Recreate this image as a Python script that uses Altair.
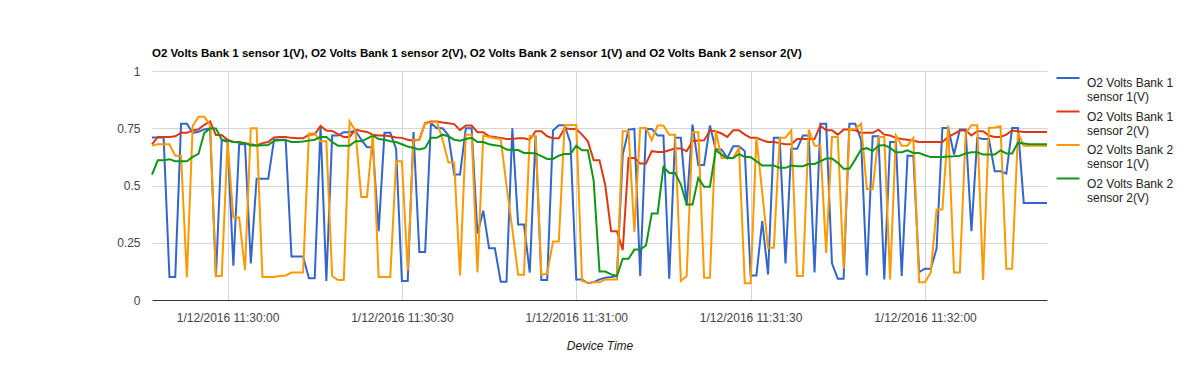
import altair as alt
import pandas as pd

series_names = [
    "O2 Volts Bank 1 sensor 1(V)",
    "O2 Volts Bank 1 sensor 2(V)",
    "O2 Volts Bank 2 sensor 1(V)",
    "O2 Volts Bank 2 sensor 2(V)",
]
series_colors = ["#3366cc", "#dc3912", "#ff9900", "#109618"]

first_time = "2016-01-12 11:29:47"
tick_times = ["2016-01-12T11:30:00", "2016-01-12T11:30:30", "2016-01-12T11:31:00",
              "2016-01-12T11:31:30", "2016-01-12T11:32:00"]
y_ticks = [0, 0.25, 0.5, 0.75, 1]

b1s1 = [
    0.71, 0.71, 0.71, 0.10, 0.10, 0.77, 0.77, 0.73, 0.735, 0.745,
    0.75, 0.10, 0.70, 0.69, 0.15, 0.68, 0.68, 0.16, 0.53, 0.53,
    0.53, 0.70, 0.70, 0.70, 0.19, 0.19, 0.19, 0.095, 0.095, 0.76,
    0.083, 0.718, 0.718, 0.733, 0.733, 0.74, 0.70, 0.667, 0.667, 0.30,
    0.73, 0.73, 0.66, 0.083, 0.083, 0.733, 0.21, 0.21, 0.773, 0.75,
    0.75, 0.72, 0.548, 0.548, 0.75, 0.75, 0.29, 0.39, 0.226, 0.226,
    0.08, 0.08, 0.75, 0.33, 0.33, 0.12, 0.718, 0.087, 0.087, 0.74,
    0.763, 0.763, 0.686, 0.09, 0.09, 0.073, 0.078, 0.09, 0.097, 0.10,
    0.105, 0.635, 0.744, 0.747, 0.105, 0.747, 0.747, 0.718, 0.718, 0.093,
    0.708, 0.708, 0.413, 0.766, 0.59, 0.59, 0.762, 0.657, 0.657, 0.62,
    0.671, 0.671, 0.65, 0.107, 0.107, 0.345, 0.112, 0.708, 0.708, 0.16,
    0.66, 0.66, 0.718, 0.718, 0.12, 0.77, 0.77, 0.16, 0.093, 0.093,
    0.77, 0.77, 0.70, 0.107, 0.715, 0.715, 0.09, 0.69, 0.69, 0.105,
    0.63, 0.63, 0.122, 0.137, 0.137, 0.224, 0.751, 0.751, 0.635, 0.744,
    0.744, 0.30, 0.708, 0.703, 0.703, 0.562, 0.562, 0.552, 0.751, 0.751,
    0.424, 0.424, 0.424, 0.424, 0.424,
]

b1s2 = [
    0.68, 0.712, 0.712, 0.712, 0.715, 0.73, 0.73, 0.74, 0.745, 0.765,
    0.78, 0.72, 0.72, 0.70, 0.69, 0.69, 0.685, 0.68, 0.675, 0.685,
    0.69, 0.71, 0.712, 0.712, 0.708, 0.706, 0.706, 0.722, 0.724, 0.76,
    0.74, 0.738, 0.724, 0.712, 0.712, 0.744, 0.738, 0.734, 0.722, 0.718,
    0.718, 0.715, 0.71, 0.708, 0.70, 0.696, 0.70, 0.773, 0.78, 0.78,
    0.775, 0.772, 0.768, 0.742, 0.762, 0.762, 0.733, 0.733, 0.715, 0.712,
    0.708, 0.703, 0.703, 0.706, 0.706, 0.70, 0.737, 0.737, 0.715, 0.706,
    0.706, 0.75, 0.747, 0.747, 0.722, 0.693, 0.61, 0.61, 0.50, 0.30,
    0.30, 0.218, 0.62, 0.62, 0.596, 0.596, 0.65, 0.646, 0.646, 0.654,
    0.662, 0.662, 0.65, 0.693, 0.696, 0.697, 0.74, 0.737, 0.727, 0.712,
    0.741, 0.741, 0.722, 0.708, 0.708, 0.698, 0.69, 0.69, 0.685, 0.68,
    0.68, 0.703, 0.703, 0.703, 0.703, 0.762, 0.741, 0.741, 0.722, 0.744,
    0.744, 0.741, 0.73, 0.73, 0.73, 0.744, 0.722, 0.718, 0.708, 0.703,
    0.70, 0.695, 0.69, 0.69, 0.69, 0.69, 0.69, 0.712, 0.725, 0.74,
    0.74, 0.718, 0.737, 0.737, 0.718, 0.712, 0.712, 0.722, 0.74, 0.737,
    0.734, 0.734, 0.734, 0.734, 0.734,
]

b2s1 = [
    0.675, 0.68, 0.68, 0.68, 0.63, 0.63, 0.10, 0.76, 0.80, 0.80,
    0.765, 0.105, 0.105, 0.69, 0.36, 0.36, 0.13, 0.75, 0.75, 0.10,
    0.10, 0.10, 0.105, 0.107, 0.12, 0.12, 0.12, 0.727, 0.727, 0.693,
    0.693, 0.105, 0.087, 0.087, 0.78, 0.74, 0.45, 0.45, 0.727, 0.10,
    0.10, 0.10, 0.606, 0.606, 0.13, 0.70, 0.70, 0.77, 0.775, 0.78,
    0.70, 0.60, 0.60, 0.107, 0.722, 0.722, 0.12, 0.718, 0.712, 0.706,
    0.703, 0.50, 0.31, 0.11, 0.11, 0.716, 0.716, 0.11, 0.115, 0.255,
    0.255, 0.764, 0.764, 0.764, 0.083, 0.075, 0.078, 0.078, 0.09, 0.09,
    0.09, 0.737, 0.737, 0.297, 0.751, 0.751, 0.698, 0.762, 0.762, 0.722,
    0.722, 0.083, 0.105, 0.733, 0.733, 0.097, 0.097, 0.74, 0.62, 0.62,
    0.62, 0.664, 0.073, 0.073, 0.708, 0.47, 0.228, 0.228, 0.708, 0.708,
    0.741, 0.105, 0.105, 0.744, 0.674, 0.674, 0.206, 0.712, 0.712, 0.137,
    0.747, 0.747, 0.77, 0.485, 0.485, 0.712, 0.712, 0.09, 0.718, 0.674,
    0.674, 0.708, 0.078, 0.078, 0.12, 0.395, 0.395, 0.762, 0.12, 0.12,
    0.727, 0.763, 0.763, 0.087, 0.751, 0.753, 0.759, 0.137, 0.137, 0.73,
    0.674, 0.674, 0.674, 0.674, 0.674,
]

b2s2 = [
    0.548, 0.61, 0.61, 0.615, 0.606, 0.606, 0.606, 0.625, 0.638, 0.73,
    0.749, 0.749, 0.70, 0.695, 0.69, 0.688, 0.685, 0.675, 0.675, 0.676,
    0.677, 0.695, 0.698, 0.698, 0.69, 0.69, 0.692, 0.696, 0.70, 0.712,
    0.712, 0.69, 0.674, 0.674, 0.674, 0.693, 0.693, 0.705, 0.718, 0.703,
    0.70, 0.693, 0.69, 0.68, 0.67, 0.664, 0.657, 0.664, 0.708, 0.708,
    0.722, 0.715, 0.70, 0.696, 0.703, 0.708, 0.69, 0.69, 0.68, 0.676,
    0.672, 0.657, 0.655, 0.655, 0.642, 0.642, 0.64, 0.628, 0.616, 0.616,
    0.63, 0.638, 0.638, 0.674, 0.654, 0.654, 0.52, 0.124, 0.124, 0.112,
    0.105, 0.18, 0.18, 0.22, 0.22, 0.238, 0.378, 0.378, 0.581, 0.555,
    0.555, 0.504, 0.417, 0.417, 0.533, 0.494, 0.494, 0.654, 0.635, 0.62,
    0.62, 0.638, 0.624, 0.624, 0.606, 0.587, 0.587, 0.587, 0.577, 0.577,
    0.587, 0.584, 0.584, 0.594, 0.594, 0.606, 0.618, 0.618, 0.599, 0.573,
    0.573, 0.613, 0.657, 0.663, 0.65, 0.674, 0.677, 0.664, 0.645, 0.645,
    0.654, 0.642, 0.642, 0.632, 0.624, 0.624, 0.624, 0.627, 0.628, 0.63,
    0.64, 0.645, 0.645, 0.635, 0.635, 0.635, 0.653, 0.64, 0.64, 0.686,
    0.683, 0.68, 0.68, 0.68, 0.68,
]

all_series = [b1s1, b1s2, b2s1, b2s2]
n = len(b1s1)
assert all(len(s) == n for s in all_series), [len(s) for s in all_series]

times = pd.date_range(first_time, periods=n, freq="s")
rows = []
for name, vals in zip(series_names, all_series):
    for t, v in zip(times, vals):
        rows.append({"time": t.strftime("%Y-%m-%dT%H:%M:%S"), "series": name, "value": v})
df = pd.DataFrame(rows)

FONT = "Liberation Sans"
x_domain = [times[0].strftime("%Y-%m-%dT%H:%M:%S"), times[-1].strftime("%Y-%m-%dT%H:%M:%S")]

chart = alt.Chart(df).mark_line(strokeWidth=2, interpolate="linear").encode(
    x=alt.X(
        "time:T",
        scale=alt.Scale(domain=x_domain, nice=False),
        axis=alt.Axis(
            title="Device Time",
            values=tick_times,
            format="%-m/%-d/%Y %H:%M:%S",
            labelFont=FONT, labelFontSize=12, labelColor="#444",
            labelPadding=12, labelFlush=False, labelOverlap=False,
            ticks=False, domain=True, domainColor="#333", domainWidth=1,
            grid=True, gridColor="#d6d6d6",
            titleFont=FONT, titleFontSize=12, titleFontStyle="italic",
            titleFontWeight="normal", titleColor="#222", titlePadding=17,
        ),
    ),
    y=alt.Y(
        "value:Q",
        scale=alt.Scale(domain=[0, 1], nice=False, zero=True),
        axis=alt.Axis(
            title=None,
            values=y_ticks,
            format=".2~f",
            labelFont=FONT, labelFontSize=12, labelColor="#444",
            labelPadding=12, ticks=False, domain=False,
            grid=True, gridColor="#d6d6d6",
        ),
    ),
    color=alt.Color(
        "series:N",
        scale=alt.Scale(domain=series_names, range=series_colors),
        legend=alt.Legend(
            title=None,
            orient="none",
            legendX=910,
            legendY=1,
            symbolType="M-3,0L3,0",
            symbolSize=59,
            symbolStrokeWidth=2,
            labelFont=FONT, labelFontSize=12, labelColor="#222",
            labelExpr="[slice(datum.label, 0, 15), slice(datum.label, 16)]",
            labelBaseline="top",
            labelOffset=13,
            rowPadding=2.5,
            labelLimit=200,
        ),
    ),
).properties(
    width=895,
    height=229,
    title=alt.TitleParams(
        text="O2 Volts Bank 1 sensor 1(V), O2 Volts Bank 1 sensor 2(V), O2 Volts Bank 2 sensor 1(V) and O2 Volts Bank 2 sensor 2(V)",
        anchor="start", font=FONT, fontSize=11.5, fontWeight="bold", color="#000",
        offset=6, frame="group",
    ),
    autosize=alt.AutoSizeParams(type="none"),
    padding={"left": 144, "top": 63, "right": 145, "bottom": 65},
).configure_view(strokeWidth=0)

chart.save("out.html", embed_options={"renderer": "svg", "actions": False})
